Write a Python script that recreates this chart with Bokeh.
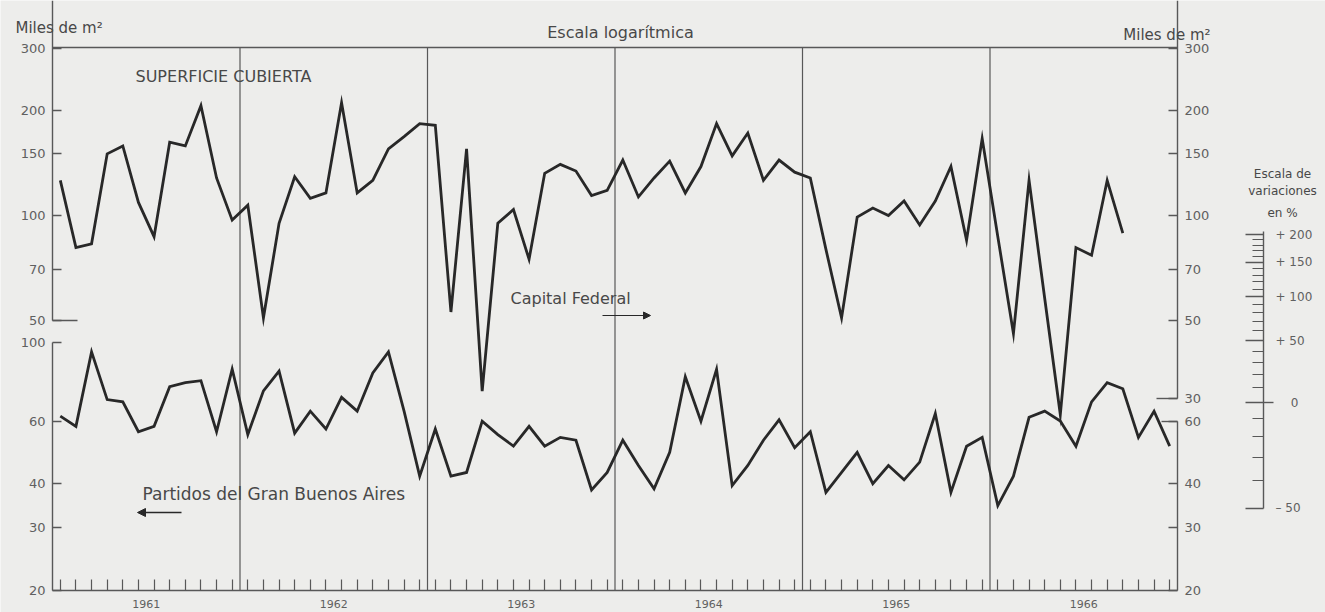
from bokeh.plotting import figure
from bokeh.models import (Range1d, LogScale, LinearScale, LogAxis, LinearAxis, FixedTicker,
                          Label, Arrow, NormalHead, PrintfTickFormatter)
from bokeh.embed import file_html
from bokeh.resources import INLINE

# ------------------------------------------------------------------ data
years = ["1961", "1962", "1963", "1964", "1965", "1966"]

# Superficie cubierta, miles de m2, mensual (Capital Federal: ene 1961 - sep 1966)
capital_federal = [
    126, 81, 83, 150, 158, 109, 87, 162, 158, 206, 128, 97,
    107, 51, 95, 129, 112, 116, 210, 116, 126, 155, 168, 183,
    181, 53, 155, 31.5, 95, 104, 75, 132, 140, 134, 114, 118,
    144, 113, 128, 143, 116, 138, 183, 148, 172, 126, 144, 133,
    128, 80, 51, 99, 105, 100, 110, 94, 110, 138, 85, 166,
    87, 46, 126, 58, 27, 81, 77, 126, 89,
]
# Partidos del Gran Buenos Aires: ene 1961 - dic 1966
gran_buenos_aires = [
    62, 58, 94, 69, 68, 56, 58, 75, 77, 78, 56, 84,
    55, 73, 83, 55.5, 64, 57, 70, 64, 82, 94, 64, 42,
    57, 42, 43, 60, 55, 51, 58, 51, 54, 53, 38.4, 43,
    53, 45, 38.7, 49, 80, 60, 84, 39.5, 45, 53, 60.5, 50.5,
    56, 37.8, 43, 49, 40, 45, 41, 46, 63, 37.8, 51, 54,
    34.7, 42, 61.5, 64, 60, 51, 68, 77, 74, 54, 64, 51,
]

cap_ticks_left = [50, 70, 100, 150, 200, 300]
cap_ticks_right = [30, 50, 70, 100, 150, 200, 300]
gba_ticks_left = [20, 30, 40, 60, 100]
gba_ticks_right = [20, 30, 40, 60]
var_major_pct = [-50, 0, 50, 100, 150, 200]
var_major_lbl = ["\u2013 50", "\u2007\u20070", "+ 50", "+ 100", "+ 150", "+ 200"]
var_minor_pct = [-40, -30, -20, -10, 10, 20, 30, 40, 60, 70, 80, 90,
                 110, 120, 130, 140, 160, 170, 180, 190]

n_months = 12 * len(years)
months = [i + 0.5 for i in range(n_months)]
year_mid = [12 * k + 6 for k in range(len(years))]
year_sep = [12 * k for k in range(1, len(years))]

# ------------------------------------------------------------------ geometry / styling
BG = "#ededeb"
INK = "#282828"
AX = "#585858"
TXT = "#484848"
TICKTXT = "#606060"
FONT = "DejaVu Sans"

W, H = 1325, 612
# chart box in page pixels
FX0, FX1, FY0, FY1 = 52, 1177, 47, 590
PX_PER_MONTH = (FX1 - FX0) / n_months

GBA_PPD = 355.0                    # lower series: 20 at FY1
CAP_PPD, CAP_Y100 = 350.0, 215.0   # upper series: 100 at y=215
VAR_PPD, VAR_Y0 = 352.0, 402.0     # variation scale: 0 % at y=402


def log_range(v_ref, y_ref, ppd):
    return Range1d(v_ref * 10 ** (-(H - y_ref) / ppd), v_ref * 10 ** (y_ref / ppd))


x_range = Range1d(-FX0 / PX_PER_MONTH, n_months + (W - FX1) / PX_PER_MONTH)
gba_range = log_range(20, FY1, GBA_PPD)
cap_range = log_range(100, CAP_Y100, CAP_PPD)
var_range = log_range(1, VAR_Y0, VAR_PPD)
gba_top = 20 * 10 ** ((FY1 - FY0) / GBA_PPD)

p = figure(width=W, height=H, x_range=x_range, y_range=gba_range, title=None,
           y_axis_type="log", x_axis_location=None, y_axis_location=None,
           output_backend="svg", toolbar_location=None,
           min_border=0, min_border_left=0, min_border_right=0,
           min_border_top=0, min_border_bottom=0,
           background_fill_color=BG, border_fill_color=BG, outline_line_color=None)
p.grid.visible = False

p.extra_y_ranges = {"cap": cap_range, "var": var_range, "py": Range1d(H, 0)}
p.extra_y_scales = {"cap": LogScale(), "var": LogScale(), "py": LinearScale()}
p.extra_x_ranges = {"px": Range1d(0, W)}

# year separators (from bottom to top of the chart box)
p.segment(x0=year_sep, x1=year_sep, y0=[20] * len(year_sep), y1=[gba_top] * len(year_sep),
          line_color=AX, line_width=1.2)

# series
p.line(months[:len(capital_federal)], capital_federal, y_range_name="cap",
       line_color=INK, line_width=2.8, line_join="miter")
p.line(months, gran_buenos_aires, line_color=INK, line_width=2.8, line_join="miter")


def style(ax, tick_in=9, labels=True, size="13px", standoff=7):
    ax.axis_line_color = AX
    ax.axis_line_width = 1.4
    ax.major_tick_line_color = AX
    ax.major_tick_line_width = 1.4
    ax.major_tick_in = tick_in
    ax.major_tick_out = 0
    ax.minor_tick_line_color = None
    ax.major_label_text_font = FONT
    ax.major_label_text_font_size = size
    ax.major_label_text_color = TICKTXT if labels else None
    ax.major_label_standoff = standoff
    return ax


fmt = PrintfTickFormatter(format="%d")

# left axes
ax = style(LogAxis(ticker=FixedTicker(ticks=gba_ticks_left), formatter=fmt,
                   bounds=(gba_ticks_left[0], gba_ticks_left[-1]), fixed_location=0))
p.add_layout(ax, "left")
ax = style(LogAxis(y_range_name="cap", ticker=FixedTicker(ticks=cap_ticks_left), formatter=fmt,
                   bounds=(cap_ticks_left[0], cap_range.end), fixed_location=0))
p.add_layout(ax, "left")
ax = style(LogAxis(y_range_name="cap", ticker=FixedTicker(ticks=cap_ticks_left[:1]),
                   formatter=fmt, fixed_location=0), tick_in=25, labels=False)
ax.axis_line_color = None
p.add_layout(ax, "left")

# right axes
ax = style(LogAxis(y_range_name="cap", ticker=FixedTicker(ticks=cap_ticks_right), formatter=fmt,
                   bounds=(cap_ticks_right[0], cap_range.end), fixed_location=n_months))
p.add_layout(ax, "right")
ax = style(LogAxis(y_range_name="cap", ticker=FixedTicker(ticks=cap_ticks_right[:1]),
                   formatter=fmt, fixed_location=n_months), tick_in=21, labels=False)
ax.axis_line_color = None
p.add_layout(ax, "right")
ax = style(LogAxis(ticker=FixedTicker(ticks=gba_ticks_right), formatter=fmt,
                   bounds=(gba_ticks_right[0], gba_ticks_right[-1]), fixed_location=n_months))
p.add_layout(ax, "right")
ax = style(LogAxis(ticker=FixedTicker(ticks=gba_ticks_right[-1:]), formatter=fmt,
                   fixed_location=n_months), tick_in=16, labels=False)
ax.axis_line_color = None
p.add_layout(ax, "right")

# escala de variaciones en %
var_x = (1263 - FX0) / PX_PER_MONTH
var_major = [1 + v / 100 for v in var_major_pct]
var_minor = [1 + v / 100 for v in var_minor_pct]
ax = style(LogAxis(y_range_name="var",
                   ticker=FixedTicker(ticks=var_major, minor_ticks=var_minor),
                   bounds=(var_major[0], var_major[-1] * 1.02), fixed_location=var_x),
           tick_in=18, size="12px", standoff=12)
ax.minor_tick_line_color = AX
ax.minor_tick_line_width = 1.2
ax.minor_tick_in = 11
ax.minor_tick_out = 0
ax.major_label_overrides = dict(zip(var_major, var_major_lbl))
p.add_layout(ax, "right")
ax = style(LogAxis(y_range_name="var", ticker=FixedTicker(ticks=var_major[1:2]),
                   formatter=fmt, fixed_location=var_x), tick_in=0, labels=False)
ax.major_tick_out = 10
ax.axis_line_color = None
p.add_layout(ax, "right")

# bottom axis: monthly ticks, year labels
ax = LinearAxis(ticker=FixedTicker(ticks=year_mid, minor_ticks=months),
                fixed_location=20, bounds=(0, n_months))
ax.axis_line_color = AX
ax.axis_line_width = 1.4
ax.major_tick_in = 0
ax.major_tick_out = 0
ax.minor_tick_in = 11
ax.minor_tick_out = 0
ax.minor_tick_line_color = AX
ax.minor_tick_line_width = 1.2
ax.major_label_overrides = dict(zip(year_mid, years))
ax.major_label_text_font = FONT
ax.major_label_text_font_size = "11px"
ax.major_label_text_color = TICKTXT
ax.major_label_standoff = 9
p.add_layout(ax, "below")

# top frame line
ax = LinearAxis(ticker=FixedTicker(ticks=[n_months / 2]), fixed_location=gba_top,
                bounds=(0, n_months))
ax.axis_line_color = AX
ax.axis_line_width = 1.4
ax.major_tick_in = 0
ax.major_tick_out = 0
ax.major_label_text_color = None
ax.major_label_standoff = 0
p.add_layout(ax, "above")


def txt(x, y, s, size, align="left", color=TXT):
    p.add_layout(Label(x=x, y=y, text=s, x_range_name="px", y_range_name="py",
                       text_font=FONT, text_font_size=size, text_color=color,
                       text_align=align, text_baseline="middle"))


txt(15, 27, "Miles de m\u00b2", "15px")
txt(620, 32, "Escala logar\u00edtmica", "16px", "center")
txt(1210, 34, "Miles de m\u00b2", "15px", "right")
txt(135, 76, "SUPERFICIE CUBIERTA", "16px")
txt(510, 298, "Capital Federal", "16px")
txt(142, 493, "Partidos del Gran Buenos Aires", "17px")
txt(1282, 173, "Escala de", "12px", "center")
txt(1282, 190, "variaciones", "12px", "center")
txt(1282, 212, "en %", "12px", "center")

p.add_layout(Arrow(end=NormalHead(size=7, fill_color=INK, line_color=INK),
                   x_start=602, y_start=315, x_end=650, y_end=315,
                   x_range_name="px", y_range_name="py", line_color=INK, line_width=1.2))
p.add_layout(Arrow(end=NormalHead(size=8, fill_color=INK, line_color=INK),
                   x_start=181, y_start=512, x_end=137, y_end=512,
                   x_range_name="px", y_range_name="py", line_color=INK, line_width=1.4))

open("out.html", "w").write(file_html(p, INLINE, title="Superficie cubierta"))
